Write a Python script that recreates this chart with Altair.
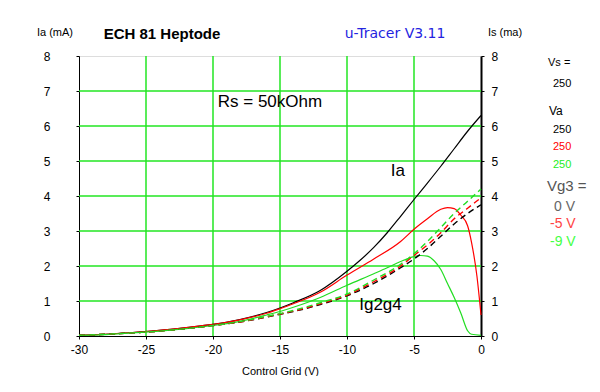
import altair as alt
import pandas as pd

# ---------------- data ----------------
black_v = [-30, -28, -26, -24, -22, -20, -18, -16, -15, -14, -12, -10, -9, -8, -7, -6, -5, -4, -3, -2, -1, 0]
black_ia = [0.02, 0.05, 0.1, 0.16, 0.24, 0.33, 0.47, 0.67, 0.8, 0.95, 1.3, 1.85, 2.17, 2.53, 2.95, 3.42, 3.9, 4.37, 4.85, 5.35, 5.85, 6.3]

red_v = [-30, -28, -26, -24, -22, -20, -18, -16, -15, -14, -12, -10, -8, -6, -5, -4, -3, -2.5, -2, -1.5, -1, -0.7, -0.3, 0]
red_ia = [0.02, 0.05, 0.1, 0.16, 0.24, 0.33, 0.46, 0.65, 0.78, 0.92, 1.25, 1.74, 2.2, 2.7, 3.05, 3.35, 3.62, 3.67, 3.64, 3.45, 3.15, 2.66, 1.7, 0.6]

green_v = [-30, -28, -26, -24, -22, -20, -18, -16, -15, -14, -12, -10, -8, -7, -6, -5, -4.5, -4, -3.5, -3, -2.5, -2, -1.5, -1, -0.7, 0]
green_ia = [0.02, 0.04, 0.09, 0.14, 0.21, 0.3, 0.42, 0.6, 0.7, 0.82, 1.1, 1.45, 1.78, 1.95, 2.13, 2.27, 2.3, 2.28, 2.15, 1.9, 1.5, 1.1, 0.65, 0.15, 0.05, 0.02]

is_v = [-30, -28, -26, -24, -22, -20, -18, -16, -15, -14, -12, -10, -8, -6, -5, -4, -3, -2, -1, 0]
black_is = [0.02, 0.05, 0.09, 0.14, 0.21, 0.3, 0.4, 0.54, 0.62, 0.7, 0.9, 1.15, 1.5, 1.95, 2.2, 2.5, 2.85, 3.2, 3.5, 3.75]
red_is = [0.02, 0.05, 0.09, 0.14, 0.21, 0.3, 0.4, 0.55, 0.63, 0.71, 0.92, 1.17, 1.55, 2.0, 2.3, 2.6, 2.95, 3.35, 3.65, 3.95]
green_is = [0.02, 0.05, 0.09, 0.14, 0.21, 0.3, 0.41, 0.56, 0.64, 0.73, 0.95, 1.2, 1.6, 2.05, 2.35, 2.7, 3.1, 3.5, 3.85, 4.2]

x_ticks = [-30, -25, -20, -15, -10, -5, 0]
y_ticks = [0, 1, 2, 3, 4, 5, 6, 7, 8]
x_grid = [-25, -20, -15, -10, -5]
y_grid = [1, 2, 3, 4, 5, 6, 7]

series_names = ["0 V", "-5 V", "-9 V"]
series_colors = ["#000000", "#ff0000", "#22dd22"]

# annotation texts inside the plot (data coordinates)
ann_text = ["Ia", "Ig2g4", "Rs = 50kOhm"]
ann_v = [-6.2, -7.5, -15.75]
ann_i = [4.71, 0.88, 6.7]

# ---------------- tables ----------------
def long(vs, ys, name):
    return pd.DataFrame({"V": vs, "I": ys, "s": name})

ia_df = pd.concat([long(black_v, black_ia, series_names[0]),
                   long(red_v, red_ia, series_names[1]),
                   long(green_v, green_ia, series_names[2])])
is_df = pd.concat([long(is_v, black_is, series_names[0]),
                   long(is_v, red_is, series_names[1]),
                   long(is_v, green_is, series_names[2])])

FONT = "Liberation Sans"
GRID = "#22e622"
xscale = alt.Scale(domain=[-30, 0], nice=False, zero=False)
yscale = alt.Scale(domain=[0, 8], nice=False)
color = alt.Color("s:N", scale=alt.Scale(domain=series_names, range=series_colors), legend=None)

x_axis = alt.Axis(values=x_ticks, title="Control Grid (V)", grid=False, tickSize=3,
                  labelPadding=5, titlePadding=10, domainColor="black", tickColor="black",
                  labelFont=FONT, labelFontSize=12, labelColor="black", titleFont=FONT,
                  titleFontSize=11, titleFontWeight="normal", titleColor="black", labelFlush=False,
                  labelExpr="datum.value + ''")

vgrid = alt.Chart(pd.DataFrame({"g": x_grid})).mark_rule(color=GRID, strokeWidth=1.5).encode(
    x=alt.X("g:Q", scale=xscale, axis=x_axis))
hgrid = alt.Chart(pd.DataFrame({"g": y_grid})).mark_rule(color=GRID, strokeWidth=1.5).encode(
    y=alt.Y("g:Q", scale=yscale, axis=None))

ia_lines = alt.Chart(ia_df).mark_line(strokeWidth=1.2, interpolate="monotone").encode(
    x=alt.X("V:Q", scale=xscale, axis=x_axis),
    y=alt.Y("I:Q", scale=yscale, axis=alt.Axis(values=y_ticks, orient="left", title=None, grid=False,
            tickSize=3, labelPadding=26, domainColor="black", tickColor="black",
            labelFont=FONT, labelFontSize=12, labelColor="black")),
    color=color, detail="s:N")

is_lines = alt.Chart(is_df).mark_line(strokeWidth=1.4, strokeDash=[6, 4], interpolate="monotone").encode(
    x=alt.X("V:Q", scale=xscale, axis=x_axis),
    y=alt.Y("I:Q", scale=yscale, axis=alt.Axis(values=y_ticks, orient="right", title=None, grid=False,
            tickSize=3, labelPadding=7, domainColor="black", domainWidth=2, tickColor="black",
            labelFont=FONT, labelFontSize=12, labelColor="black")),
    color=color, detail="s:N")

ann = alt.Chart(pd.DataFrame({"t": ann_text, "V": ann_v, "I": ann_i})).mark_text(
    font=FONT, fontSize=17, color="black").encode(
    x=alt.X("V:Q", scale=xscale, axis=x_axis),
    y=alt.Y("I:Q", scale=yscale, axis=None),
    text="t:N")

def label(txt, x, y, size=11, col="black", weight="normal", align="center", font=FONT):
    return alt.Chart(pd.DataFrame({"t": [txt]})).mark_text(
        font=font, fontSize=size, color=col, fontWeight=weight, align=align, baseline="middle").encode(
        x=alt.value(x), y=alt.value(y), text="t:N")

labels = [
    label("ECH 81 Heptode", 83, -22, size=15, weight="bold"),
    label("u-Tracer V3.11", 316, -22, size=14, col="#2424e0", font="DejaVu Sans"),
    label("Ia (mA)", -24, -23, size=11),
    label("Is (ma)", 426, -23, size=11),
    label("Vs =", 469, 7, size=11, align="left"),
    label("250", 474, 28, size=11, align="left"),
    label("Va", 470, 55, size=12, align="left"),
    label("250", 474, 74, size=11, align="left"),
    label("250", 474, 91, size=11, col="#ff0000", align="left"),
    label("250", 474, 109, size=11, col="#22ee22", align="left"),
    label("Vg3 =", 468, 130, size=15, col="#555555", align="left"),
    label("0 V", 475, 151, size=14, col="#666666", align="left"),
    label("-5 V", 471, 168, size=14, col="#ff4444", align="left"),
    label("-9 V", 471, 186, size=14, col="#44ff44", align="left"),
]

chart = alt.layer(vgrid, hgrid, ia_lines, is_lines, ann, *labels).resolve_scale(
    y="independent").properties(
    width=402, height=280,
    autosize=alt.AutoSizeParams(type="none"),
    padding={"left": 71, "top": 48, "right": 111, "bottom": 40},
).configure_view(stroke="black", strokeWidth=1).configure(background="white")

chart.save("out.html", embed_options={"renderer": "svg", "actions": False})
